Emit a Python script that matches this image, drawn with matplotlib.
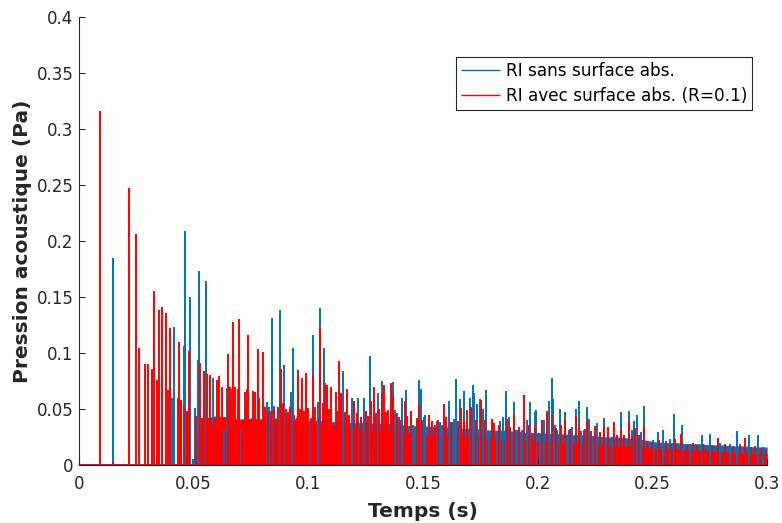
import numpy as np
import matplotlib
matplotlib.use('Agg')
import matplotlib.pyplot as plt
from matplotlib.ticker import FormatStrFormatter, MultipleLocator

# impulse response: (time s, pressure Pa) of visible spikes
blue_peaks = [
    (0.0147, 0.185), (0.0404, 0.060), (0.0416, 0.123), (0.0446, 0.057), (0.0456, 0.106),
    (0.0462, 0.209), (0.0470, 0.048), (0.0484, 0.150), (0.0496, 0.005), (0.0507, 0.051),
    (0.0518, 0.094), (0.0523, 0.173), (0.0549, 0.040), (0.0555, 0.164), (0.0583, 0.078),
    (0.0632, 0.031), (0.0644, 0.069), (0.0702, 0.032), (0.0819, 0.056), (0.0829, 0.052),
    (0.0843, 0.131), (0.0852, 0.053), (0.0875, 0.098), (0.0878, 0.138), (0.0895, 0.089),
    (0.0925, 0.065), (0.0935, 0.104), (0.1004, 0.037), (0.1022, 0.116), (0.1041, 0.056),
    (0.1050, 0.140), (0.1068, 0.104), (0.1151, 0.0835), (0.1189, 0.060), (0.1218, 0.060),
    (0.1242, 0.060), (0.1268, 0.097), (0.1303, 0.064), (0.1320, 0.0745), (0.1371, 0.074),
    (0.1377, 0.049), (0.1396, 0.043), (0.1409, 0.060), (0.1426, 0.067), (0.1458, 0.036),
    (0.1467, 0.034), (0.1483, 0.076), (0.1492, 0.068), (0.1502, 0.043), (0.1509, 0.045),
    (0.1560, 0.039), (0.1574, 0.038), (0.1584, 0.036), (0.1611, 0.0575), (0.1627, 0.038),
    (0.1637, 0.041), (0.1645, 0.0766), (0.1663, 0.059), (0.1678, 0.066), (0.1705, 0.060),
    (0.1717, 0.0715), (0.1724, 0.064), (0.1737, 0.054), (0.1749, 0.059), (0.1763, 0.050),
    (0.1774, 0.067), (0.1787, 0.030), (0.1824, 0.023), (0.1836, 0.039), (0.1848, 0.043),
    (0.1862, 0.0656), (0.1875, 0.043), (0.1887, 0.023), (0.1897, 0.056), (0.1904, 0.031),
    (0.1916, 0.031), (0.1922, 0.029), (0.1933, 0.031), (0.1952, 0.040), (0.1966, 0.056),
    (0.1986, 0.047), (0.1994, 0.049), (0.2009, 0.024), (0.2027, 0.040), (0.2050, 0.057),
    (0.2061, 0.078), (0.2066, 0.059), (0.2076, 0.036), (0.2086, 0.031), (0.2099, 0.050),
    (0.2117, 0.047), (0.2127, 0.027), (0.2137, 0.031), (0.2151, 0.034), (0.2166, 0.050),
    (0.2178, 0.057), (0.2188, 0.030), (0.2204, 0.032), (0.2214, 0.052), (0.2224, 0.041),
    (0.2239, 0.025), (0.2259, 0.037), (0.2273, 0.025), (0.2287, 0.042), (0.2298, 0.023),
    (0.2323, 0.025), (0.2361, 0.047), (0.2396, 0.048), (0.2410, 0.031), (0.2420, 0.039),
    (0.2432, 0.045), (0.2447, 0.022), (0.2452, 0.029), (0.2464, 0.053), (0.2502, 0.022),
    (0.2526, 0.0295), (0.2546, 0.031), (0.2577, 0.023), (0.2596, 0.0456), (0.2628, 0.036),
    (0.2665, 0.019), (0.2717, 0.027), (0.2752, 0.028), (0.2795, 0.020), (0.2839, 0.019),
    (0.2870, 0.030), (0.2883, 0.019), (0.2923, 0.027), (0.2945, 0.017), (0.2960, 0.027),
    (0.2982, 0.016),
]

red_peaks = [
    (0.0092, 0.316), (0.0147, 0.003), (0.0219, 0.2475), (0.0249, 0.2057), (0.0262, 0.1043),
    (0.0286, 0.090), (0.0303, 0.090), (0.0319, 0.086), (0.0329, 0.1556), (0.0339, 0.076),
    (0.0348, 0.138), (0.0364, 0.141), (0.0379, 0.136), (0.0389, 0.067), (0.0397, 0.122),
    (0.0430, 0.060), (0.0438, 0.110), (0.0445, 0.058), (0.0459, 0.053), (0.0471, 0.048),
    (0.0478, 0.102), (0.0510, 0.044), (0.0528, 0.091), (0.0536, 0.042), (0.0545, 0.0835),
    (0.0560, 0.0815), (0.0571, 0.080), (0.0586, 0.036), (0.0600, 0.076), (0.0612, 0.079),
    (0.0622, 0.070), (0.0650, 0.099), (0.0659, 0.070), (0.0666, 0.068), (0.0670, 0.1276),
    (0.0680, 0.070), (0.0692, 0.068), (0.0696, 0.1306), (0.0717, 0.029), (0.0724, 0.0655),
    (0.0731, 0.068), (0.0738, 0.116), (0.0760, 0.066), (0.0769, 0.065), (0.0779, 0.1037),
    (0.0786, 0.060), (0.0794, 0.026), (0.0801, 0.101), (0.0812, 0.052), (0.0822, 0.048),
    (0.0837, 0.048), (0.0848, 0.050), (0.0867, 0.052), (0.0881, 0.086), (0.0890, 0.055),
    (0.0901, 0.050), (0.0910, 0.047), (0.0922, 0.052), (0.0939, 0.045), (0.0949, 0.042),
    (0.0956, 0.0845), (0.0963, 0.050), (0.0971, 0.078), (0.0980, 0.048), (0.0989, 0.0817),
    (0.1000, 0.051), (0.1010, 0.042), (0.1022, 0.080), (0.1031, 0.052), (0.1050, 0.123),
    (0.1065, 0.055), (0.1073, 0.073), (0.1080, 0.071), (0.1090, 0.050), (0.1099, 0.070),
    (0.1109, 0.036), (0.1119, 0.065), (0.1126, 0.048), (0.1134, 0.093), (0.1143, 0.064),
    (0.1158, 0.047), (0.1169, 0.068), (0.1178, 0.045), (0.1201, 0.057), (0.1212, 0.046),
    (0.1230, 0.043), (0.1252, 0.048), (0.1262, 0.044), (0.1273, 0.057), (0.1285, 0.070),
    (0.1295, 0.046), (0.1310, 0.050), (0.1320, 0.064), (0.1329, 0.071), (0.1340, 0.047),
    (0.1349, 0.049), (0.1361, 0.073), (0.1371, 0.061), (0.1386, 0.046), (0.1400, 0.040),
    (0.1420, 0.057), (0.1432, 0.044), (0.1447, 0.048), (0.1475, 0.042), (0.1483, 0.054),
    (0.1497, 0.040), (0.1526, 0.045), (0.1538, 0.039), (0.1552, 0.036), (0.1566, 0.040),
    (0.1593, 0.054), (0.1600, 0.043), (0.1620, 0.038), (0.1653, 0.039), (0.1667, 0.051),
    (0.1680, 0.040), (0.1691, 0.049), (0.1710, 0.052), (0.1730, 0.040), (0.1753, 0.058),
    (0.1770, 0.040), (0.1800, 0.041), (0.1810, 0.037), (0.1830, 0.036), (0.1865, 0.041),
    (0.1880, 0.034), (0.1898, 0.045), (0.1920, 0.034), (0.1942, 0.0626), (0.1960, 0.036),
    (0.1974, 0.027), (0.1990, 0.036), (0.2018, 0.040), (0.2040, 0.048), (0.2061, 0.045),
    (0.2080, 0.033), (0.2100, 0.036), (0.2120, 0.041), (0.2140, 0.032), (0.2166, 0.044),
    (0.2180, 0.034), (0.2200, 0.031), (0.2214, 0.040), (0.2230, 0.030), (0.2250, 0.035),
    (0.2270, 0.029), (0.2287, 0.036), (0.2308, 0.034), (0.2334, 0.038), (0.2346, 0.027),
    (0.2361, 0.032), (0.2375, 0.027), (0.2396, 0.039), (0.2410, 0.026), (0.2422, 0.033),
    (0.2440, 0.027), (0.2461, 0.035), (0.2478, 0.021), (0.2500, 0.020), (0.2530, 0.022),
    (0.2560, 0.021), (0.2580, 0.019), (0.2600, 0.023), (0.2624, 0.028), (0.2650, 0.018),
    (0.2675, 0.020), (0.2696, 0.018), (0.2720, 0.019), (0.2734, 0.014), (0.2760, 0.018),
    (0.2785, 0.024), (0.2817, 0.019), (0.2850, 0.017), (0.2880, 0.018), (0.2904, 0.024),
    (0.2930, 0.016), (0.2948, 0.016), (0.2975, 0.015), (0.2996, 0.013),
]

# dense late reverberation: solid level read every 5 ms from 0.05 s to 0.3 s
body_start, body_step = 0.05, 0.005
blue_body = [
    0.016, 0.042, 0.044, 0.043, 0.041, 0.042, 0.041, 0.042, 0.042, 0.041,
    0.040, 0.040, 0.039, 0.038, 0.038, 0.038, 0.037, 0.037, 0.036, 0.035,
    0.035, 0.034, 0.034, 0.033, 0.033, 0.032, 0.031, 0.031, 0.030, 0.029,
    0.029, 0.028, 0.028, 0.027, 0.027, 0.026, 0.025, 0.025, 0.024, 0.023,
    0.021, 0.020, 0.020, 0.019, 0.019, 0.018, 0.018, 0.017, 0.017, 0.016,
    0.016,
]
red_body = [
    0.015, 0.041, 0.043, 0.042, 0.040, 0.041, 0.040, 0.041, 0.041, 0.040,
    0.038, 0.038, 0.036, 0.035, 0.033, 0.032, 0.031, 0.030, 0.029, 0.028,
    0.027, 0.027, 0.026, 0.026, 0.025, 0.025, 0.024, 0.023, 0.022, 0.022,
    0.021, 0.021, 0.020, 0.020, 0.019, 0.018, 0.018, 0.017, 0.017, 0.016,
    0.015, 0.014, 0.014, 0.013, 0.013, 0.012, 0.012, 0.011, 0.011, 0.010,
    0.010,
]
t_end = 0.3

labels = ['RI sans surface abs.', 'RI avec surface abs. (R=0.1)']
blue = '#0072BD'
red = '#FF0000'
txt = '#262626'

body_t = body_start + body_step * np.arange(len(blue_body))
bt, bv = np.array(blue_peaks).T
rt, rv = np.array(red_peaks).T

fig = plt.figure(figsize=(7.82, 5.23), dpi=100)
ax = fig.add_axes([0.101, 0.111, 0.880, 0.857])

# blue first, red drawn over it
ax.hlines(0, 0, t_end, color=blue, lw=1.2)
ax.fill_between(body_t, 0, blue_body, color=blue, lw=0)
ax.vlines(bt, 0, bv, color=blue, lw=1.4, label=labels[0])
ax.hlines(0, 0, t_end, color=red, lw=1.2)
ax.fill_between(body_t, 0, red_body, color=red, lw=0)
ax.vlines(rt, 0, rv, color=red, lw=1.4, label=labels[1])

ax.set_xlim(0, 0.3)
ax.set_ylim(0, 0.4)
ax.xaxis.set_major_locator(MultipleLocator(0.05))
ax.yaxis.set_major_locator(MultipleLocator(0.05))
ax.xaxis.set_major_formatter(FormatStrFormatter('%g'))
ax.yaxis.set_major_formatter(FormatStrFormatter('%g'))

for s in ['top', 'right']:
    ax.spines[s].set_visible(False)
for s in ['left', 'bottom']:
    ax.spines[s].set_color(txt)
    ax.spines[s].set_linewidth(0.8)
ax.tick_params(direction='in', length=4, width=0.8, color=txt, labelcolor=txt, labelsize=12)
ax.tick_params(axis='x', pad=7)
ax.tick_params(axis='y', pad=4)

ax.set_xlabel('Temps (s)', fontsize=14.5, fontweight='bold', color=txt, labelpad=7)
ax.set_ylabel('Pression acoustique (Pa)', fontsize=14.5, fontweight='bold', color=txt, labelpad=3)

leg = ax.legend(loc='upper right', bbox_to_anchor=(0.9616, 0.891), bbox_transform=fig.transFigure,
                fontsize=12.2, frameon=True, fancybox=False, framealpha=1, edgecolor=txt,
                borderaxespad=0, handlelength=2.3, handletextpad=0.3, labelspacing=0.4,
                borderpad=0.3)
leg.get_frame().set_linewidth(0.8)
for h in leg.legend_handles:
    h.set_linewidth(1.0)

fig.savefig('out.png', dpi=100)
